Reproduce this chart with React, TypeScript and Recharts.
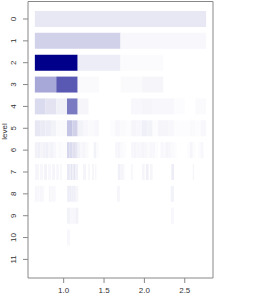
import { ComposedChart, XAxis, YAxis, ReferenceArea } from "recharts";

// data extent along x, and the axis ticks
const xStart = 0.643;
const xEnd = 2.765;
const xTicks = [1.0, 1.5, 2.0, 2.5];
const levelTicks = [0, 1, 2, 3, 4, 5, 6, 7, 8, 9, 10, 11];
const scaleTicks = [0, 0.1, 0.2, 0.3, 0.4, 0.5, 0.6, 0.7, 0.8, 0.9, 1.0];

// intensities per level (level k has 2^k cells)
const level0 = [0.09];
const level1 = [0.18, 0.03];
const level2 = [1.0, 0.07, 0.015, 0];
const level3 = [0.34, 0.65, 0.02, 0, 0.02, 0.04, 0, 0];
const level4 = [0.14, 0.11, 0.06, 0.52, 0.04, 0, 0, 0, 0, 0.03, 0.04, 0.03, 0.03, 0.01, 0, 0.02];
const level5 = [
  0.09, 0.08, 0.07, 0.05, 0.02, 0.02, 0.23, 0.18, 0.05, 0.03, 0.02, 0.03, 0, 0, 0.01, 0.03,
  0.02, 0.01, 0.04, 0.03, 0.06, 0.05, 0.01, 0.04, 0.04, 0.03, 0.01, 0.01, 0.01, 0.02, 0.01, 0.03,
];
const level6 = [
  0.05, 0.06, 0.04, 0.05, 0.06, 0.04, 0.05, 0.03, 0.01, 0.02, 0.01, 0.01, 0.16, 0.14, 0.12, 0.1,
  0.05, 0.03, 0.04, 0.02, 0, 0, 0.05, 0.01, 0, 0, 0, 0, 0, 0, 0.03, 0.04,
  0.02, 0.01, 0, 0, 0.03, 0.04, 0.03, 0.03, 0.04, 0.03, 0.02, 0.03, 0.03, 0.01, 0, 0.03,
  0.02, 0.04, 0.03, 0.02, 0.01, 0, 0, 0, 0, 0.01, 0.04, 0.01, 0, 0.01, 0.03, 0,
];
// deeper levels are sparse: [first cell, last cell, value]
const level7Runs = [
  [0, 0, 0.03], [1, 1, 0.05], [2, 2, 0.04], [4, 5, 0.03], [7, 8, 0.05], [10, 11, 0.03], [13, 14, 0.04],
  [16, 17, 0.03], [19, 19, 0.04], [24, 24, 0.08], [25, 25, 0.12], [26, 26, 0.06], [27, 27, 0.1],
  [28, 28, 0.07], [29, 29, 0.11], [30, 30, 0.05], [31, 31, 0.08], [36, 36, 0.04], [37, 37, 0.06],
  [40, 40, 0.04], [43, 43, 0.05], [45, 45, 0.03], [62, 63, 0.06], [64, 65, 0.04], [66, 66, 0.03],
  [72, 72, 0.04], [80, 81, 0.04], [83, 84, 0.06], [86, 87, 0.04], [102, 103, 0.07], [118, 118, 0.04],
];
const level8Runs = [
  [0, 1, 0.03], [2, 3, 0.04], [5, 6, 0.03], [8, 9, 0.04], [10, 11, 0.03], [12, 13, 0.02],
  [21, 22, 0.04], [23, 24, 0.03], [26, 27, 0.04], [29, 30, 0.03], [48, 49, 0.06], [50, 51, 0.09],
  [52, 53, 0.07], [54, 55, 0.05], [56, 57, 0.08], [58, 59, 0.06], [60, 61, 0.05], [62, 64, 0.04],
  [123, 126, 0.04], [203, 207, 0.05],
];
const level9Runs = [
  [96, 104, 0.05], [105, 120, 0.03], [121, 129, 0.05], [407, 415, 0.03],
];
const level10Runs = [[192, 210, 0.03]];

const fullLevels = [level0, level1, level2, level3, level4, level5, level6];
const sparseLevels: [number, number[][]][] = [
  [7, level7Runs],
  [8, level8Runs],
  [9, level9Runs],
  [10, level10Runs],
];

type Cell = { level: number; x1: number; x2: number; v: number };

const cellWidth = (level: number) => (xEnd - xStart) / Math.pow(2, level);

const cells: Cell[] = [];
fullLevels.forEach((values, level) => {
  const w = cellWidth(level);
  values.forEach((v, i) => {
    if (v > 0) cells.push({ level, x1: xStart + i * w, x2: xStart + (i + 1) * w, v });
  });
});
sparseLevels.forEach(([level, runs]) => {
  const w = cellWidth(level);
  runs.forEach(([a, b, v]) => cells.push({ level, x1: xStart + a * w, x2: xStart + (b + 1) * w, v }));
});

const pad = (xEnd - xStart) * 0.04;
const xDomain = [xStart - pad, xEnd + pad];
const yDomain = [-0.8, 11.85];

function heat(v: number) {
  const c = (t: number) => Math.round(t);
  return `rgb(${c(255 * (1 - v))},${c(255 * (1 - v))},${c(255 - 116 * v)})`;
}

function LevelTick({ x, y, payload }: any) {
  return (
    <text x={x} y={y} transform={`rotate(-90, ${x}, ${y})`} textAnchor="middle" fontSize={8} fill="#333">
      {payload.value}
    </text>
  );
}

export default function App() {
  return (
    <div
      style={{
        position: "absolute",
        left: 0,
        top: 0,
        width: 269,
        height: 306,
        background: "#fff",
        fontFamily: "'Liberation Sans', Arial, sans-serif",
      }}
    >
      <div style={{ position: "absolute", left: 0, top: 0 }}>
        <ComposedChart width={269} height={306} margin={{ top: 1.5, right: 56, bottom: 0, left: 0 }}>
          <XAxis
            type="number"
            dataKey="x"
            domain={xDomain}
            allowDataOverflow
            ticks={xTicks}
            tickFormatter={(v: number) => v.toFixed(1)}
            axisLine={false}
            tickSize={5}
            tickMargin={4}
            height={28}
            stroke="#888"
            tick={{ fontSize: 8, fill: "#333" }}
          />
          <YAxis
            type="number"
            dataKey="y"
            domain={yDomain}
            reversed
            allowDataOverflow
            ticks={levelTicks}
            interval={0}
            axisLine={false}
            tickSize={5}
            tickMargin={6.5}
            width={28}
            stroke="#888"
            tick={<LevelTick />}
            label={{ value: "level", angle: -90, position: "insideLeft", offset: 0, dx: 4, fontSize: 8, fill: "#333" }}
          />
          {cells.map((c, i) => (
            <ReferenceArea
              key={i}
              x1={c.x1}
              x2={c.x2}
              y1={c.level - 0.365}
              y2={c.level + 0.365}
              fill={heat(c.v)}
              fillOpacity={1}
              stroke="none"
              ifOverflow="visible"
            />
          ))}
          <ReferenceArea
            x1={xDomain[0]}
            x2={xDomain[1]}
            y1={yDomain[0]}
            y2={yDomain[1]}
            fill="none"
            stroke="#888"
            strokeWidth={1}
            ifOverflow="visible"
          />
        </ComposedChart>
      </div>
      <div style={{ position: "absolute", left: 0, top: 0 }}>
        <ComposedChart width={269} height={306} margin={{ top: 12, right: 7, bottom: 39, left: 219 }}>
          <defs>
            <linearGradient id="scaleGrad" x1="0" y1="0" x2="0" y2="1">
              <stop offset="0%" stopColor={heat(1)} />
              <stop offset="100%" stopColor={heat(0)} />
            </linearGradient>
          </defs>
          <XAxis type="number" dataKey="x" domain={[0, 1]} hide />
          <YAxis
            type="number"
            dataKey="y"
            domain={[0, 1]}
            ticks={scaleTicks}
            interval={0}
            tickFormatter={(v: number) => v.toFixed(1)}
            axisLine={false}
            tickLine={false}
            tickSize={0}
            tickMargin={12}
            width={30}
            tick={{ fontSize: 8, fill: "#333" }}
          />
          <ReferenceArea x1={0} x2={1} y1={0} y2={1} fill="url(#scaleGrad)" fillOpacity={1} stroke="#888" ifOverflow="visible" />
        </ComposedChart>
      </div>
    </div>
  );
}
